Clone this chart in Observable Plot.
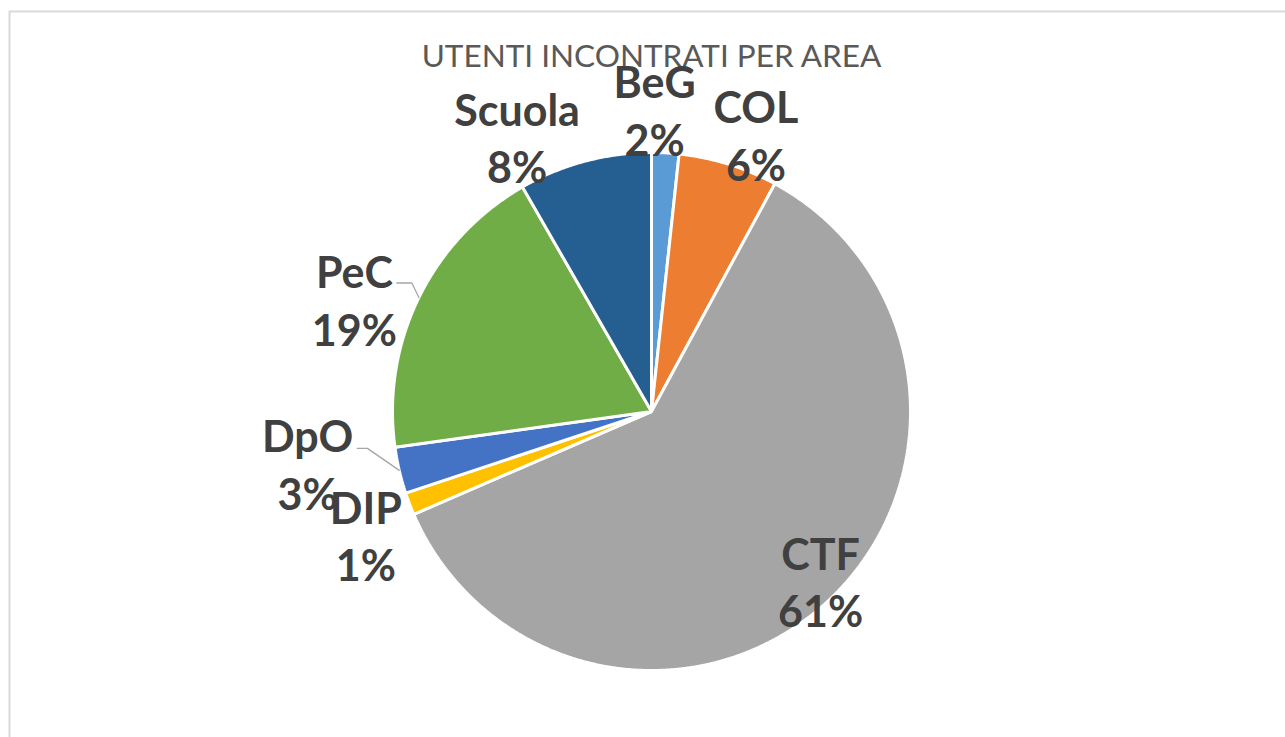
<!DOCTYPE html>
<html><head><meta charset="utf-8">
<script src="https://cdn.jsdelivr.net/npm/d3@7"></script>
<script src="https://cdn.jsdelivr.net/npm/@observablehq/plot@0.6"></script>
<style>html,body{margin:0;padding:0;background:#fff;} svg{display:block}</style>
</head><body><div id="chart"></div>
<script>
// ---- data ----
const title = "UTENTI INCONTRATI PER AREA";
const categories = ["BeG", "COL", "CTF", "DIP", "DpO", "PeC", "Scuola"];
const values = [1.7, 6.2, 60.6, 1.4, 2.9, 18.9, 8.3];
const percentLabels = ["2%", "6%", "61%", "1%", "3%", "19%", "8%"];
const colors = ["#5b9bd5", "#ed7d31", "#a5a5a5", "#ffc000", "#4472c4", "#70ad47", "#255e91"];

// ---- layout (label placement in polar form, relative to pie radius) ----
const labelAngle = [0.6, 20.6, 134.9, 246.8, 261.6, 290.8, 334.0];
const labelRadius = [1.169, 1.147, 0.922, 1.2, 1.342, 1.227, 1.184];
const leaderElbowAngle = [null, null, null, null, 262.6, 298.2, null];
const leaderElbowRadius = [null, null, null, null, 1.106, 1.05, null];
const leaderTail = [null, null, null, null, 0.039, 0.058, null];

const W = 1285, H = 737, CX = 651, CY = 411, R = 259;
const rad = a => a * Math.PI / 180;
const polar = (a, r) => [r * Math.sin(a), r * Math.cos(a)];

const rows = categories.map((name, i) => ({name, value: values[i], pct: percentLabels[i], i}));
const arcs = d3.pie().sort(null).value(d => d.value).startAngle(0).endAngle(2 * Math.PI)(rows);

// slice polygons
const slicePts = [];
for (const a of arcs) {
  const n = Math.max(2, Math.ceil((a.endAngle - a.startAngle) / 0.005));
  slicePts.push({name: a.data.name, x: 0, y: 0});
  for (let k = 0; k <= n; k++) {
    const t = a.startAngle + (a.endAngle - a.startAngle) * k / n;
    const [x, y] = polar(t, 1);
    slicePts.push({name: a.data.name, x, y});
  }
}

// labels
const labels = rows.map((d, i) => {
  const [x, y] = polar(rad(labelAngle[i]), labelRadius[i]);
  return {x, y, text: d.name + "\n" + d.pct};
});

// leader lines
const leaderPts = [];
arcs.forEach((a, i) => {
  if (leaderElbowAngle[i] == null) return;
  const mid = (a.startAngle + a.endAngle) / 2;
  const [x0, y0] = polar(mid, 1.0);
  const [x1, y1] = polar(rad(leaderElbowAngle[i]), leaderElbowRadius[i]);
  leaderPts.push({name: a.data.name, x: x0, y: y0});
  leaderPts.push({name: a.data.name, x: x1, y: y1});
  leaderPts.push({name: a.data.name, x: x1 - leaderTail[i], y: y1});
});

const chart = Plot.plot({
  width: W, height: H,
  margin: 0,
  x: {domain: [-1, 1], range: [CX - R, CX + R], axis: null},
  y: {domain: [-1, 1], range: [CY + R, CY - R], axis: null},
  color: {domain: categories, range: colors},
  style: {background: "#fff"},
  marks: [
    Plot.frame({stroke: "#d9d9d9", strokeWidth: 2, insetLeft: 9, insetTop: 11, insetRight: -20, insetBottom: -20}),
    Plot.line(slicePts, {x: "x", y: "y", z: "name", fill: "name", stroke: "white", strokeWidth: 3, curve: "linear-closed", strokeLinejoin: "miter"}),
    Plot.line(leaderPts, {x: "x", y: "y", z: "name", stroke: "#a6a6a6", strokeWidth: 1.3}),
    Plot.text([title], {x: () => 0, frameAnchor: "top", lineAnchor: "top", dy: 44, fontSize: 31.5, fontFamily: "Lato", fill: "#595959"}),
    Plot.text(labels, {x: "x", y: "y", text: "text", fontSize: 43, fontWeight: "bold", fontFamily: "Lato", fill: "#404040", lineHeight: 1.34})
  ]
});
document.getElementById("chart").appendChild(chart);
</script>
</body></html>
